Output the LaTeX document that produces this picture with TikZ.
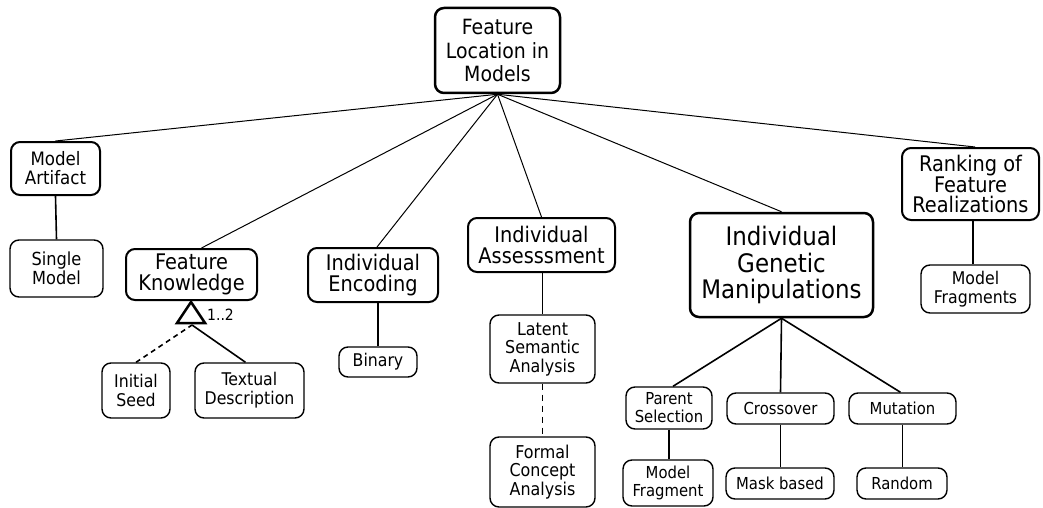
\documentclass[tikz,border=0pt]{standalone}
\usepackage{fontspec}
\setmainfont{DejaVu Sans Condensed}
\begin{document}
\begin{tikzpicture}[x=1pt,y=-1pt,
  box/.style={draw, rounded corners=9pt, align=center, inner sep=0pt},
  rootbox/.style={box, line width=2.5pt, font=\fontsize{21}{23.5}\selectfont},
  bigbox/.style={box, line width=2.5pt, font=\fontsize{25.5}{26.5}\selectfont},
  midbox/.style={box, line width=2pt, font=\fontsize{21.5}{21}\selectfont},
  leafbox/.style={box, line width=1.4pt, font=\fontsize{17.5}{19}\selectfont},
  smallbox/.style={box, line width=1.4pt, font=\fontsize{16.5}{18}\selectfont},
  toplink/.style={line width=1pt},
  sublink/.style={line width=1.6pt},
  optlink/.style={line width=1.6pt, dash pattern=on 6pt off 5pt}]
\useasboundingbox (0,0) rectangle (1043,508);

% root
\node[rootbox, minimum width=125pt, minimum height=85pt] (root) at (497.5,50.5) {Feature\\Location in\\Models};

% first level
\node[midbox, minimum width=89pt, minimum height=53pt, font=\fontsize{18.5}{19}\selectfont] (ma) at (55.5,168.5) {Model\\Artifact};
\node[midbox, minimum width=131pt, minimum height=51pt] (fk) at (191.5,274.5) {Feature\\Knowledge};
\node[midbox, minimum width=130pt, minimum height=54pt] (ie) at (373,275) {Individual\\Encoding};
\node[midbox, minimum width=147pt, minimum height=54pt] (ia) at (541.5,245) {Individual\\Assesssment};
\node[bigbox, minimum width=183pt, minimum height=104pt] (igm) at (781.5,265) {Individual\\Genetic\\Manipulations};
\node[midbox, minimum width=137pt, minimum height=72pt, font=\fontsize{21.5}{20}\selectfont] (rk) at (970.5,184) {Ranking of\\Feature\\Realizations};

% second level
\node[leafbox, minimum width=93pt, minimum height=57pt, font=\fontsize{18}{19}\selectfont] (sm) at (56.5,268.5) {Single\\Model};
\node[leafbox, minimum width=68pt, minimum height=55pt] (is) at (136,390.5) {Initial\\Seed};
\node[leafbox, minimum width=109pt, minimum height=55pt] (td) at (249.5,390.5) {Textual\\Description};
\node[leafbox, minimum width=78pt, minimum height=30pt] (bin) at (378,362) {Binary};
\node[leafbox, minimum width=105pt, minimum height=68pt, font=\fontsize{17.7}{18.5}\selectfont] (lsa) at (542.5,349) {Latent\\Semantic\\Analysis};
\node[leafbox, minimum width=105pt, minimum height=70pt, font=\fontsize{17.7}{18.5}\selectfont] (fca) at (542.5,472) {Formal\\Concept\\Analysis};
\node[smallbox, minimum width=86pt, minimum height=42pt] (ps) at (669,408) {Parent\\Selection};
\node[smallbox, minimum width=107pt, minimum height=31pt] (co) at (780.5,408.5) {Crossover};
\node[smallbox, minimum width=107pt, minimum height=31pt] (mu) at (902.5,408.5) {Mutation};
\node[smallbox, minimum width=90pt, minimum height=46pt] (mf) at (668,483) {Model\\Fragment};
\node[smallbox, minimum width=108pt, minimum height=31pt] (mb) at (780,483.5) {Mask based};
\node[smallbox, minimum width=90pt, minimum height=31pt] (ra) at (902,483.5) {Random};
\node[leafbox, minimum width=109pt, minimum height=48pt] (mfs) at (975.5,289) {Model\\Fragments};

% links from the root
\draw[toplink] (root.south) -- (ma.north);
\draw[toplink] (root.south) -- ([xshift=10pt]fk.north);
\draw[toplink] (root.south) -- ([xshift=4pt]ie.north);
\draw[toplink] (root.south) -- (ia.north);
\draw[toplink] (root.south) -- (igm.north);
\draw[toplink] (root.south) -- ([xshift=4.5pt]rk.north);

% model artifact
\draw[sublink] (ma.south) -- (sm.north);

% feature knowledge: generalization with multiplicity
\coordinate (apex) at (191,302);
\coordinate (join) at (192,325);
\draw[line width=2.5pt, line join=miter] (apex) -- ++(-14,21) -- ++(28,0) -- cycle;
\node[anchor=west, font=\fontsize{15.5}{17}\selectfont, inner sep=0pt] (mult) at (207,315) {1..2};
\draw[optlink, dash pattern=on 5pt off 4pt] (is.north) -- (join);
\draw[sublink] ([xshift=-4pt]td.north) -- (join);

% encoding
\draw[sublink] (bin.north) -- (bin.north |- ie.south);

% assessment
\draw[sublink] (lsa.north |- ia.south) -- (lsa.north);
\draw[optlink] (lsa.south) -- (fca.north);

% genetic manipulations
\draw[sublink] (igm.south) -- ([xshift=4pt]ps.north);
\draw[sublink] (igm.south) -- (co.north);
\draw[sublink] (igm.south) -- ([xshift=-2pt]mu.north);
\draw[sublink] (ps.south) -- (ps.south |- mf.north);
\draw[sublink] (co.south) -- (co.south |- mb.north);
\draw[sublink] (mu.south) -- (mu.south |- ra.north);

% ranking
\draw[sublink] ([xshift=-2.5pt]mfs.north) -- ([xshift=-2.5pt]mfs.north |- rk.south);
\end{tikzpicture}
\end{document}
